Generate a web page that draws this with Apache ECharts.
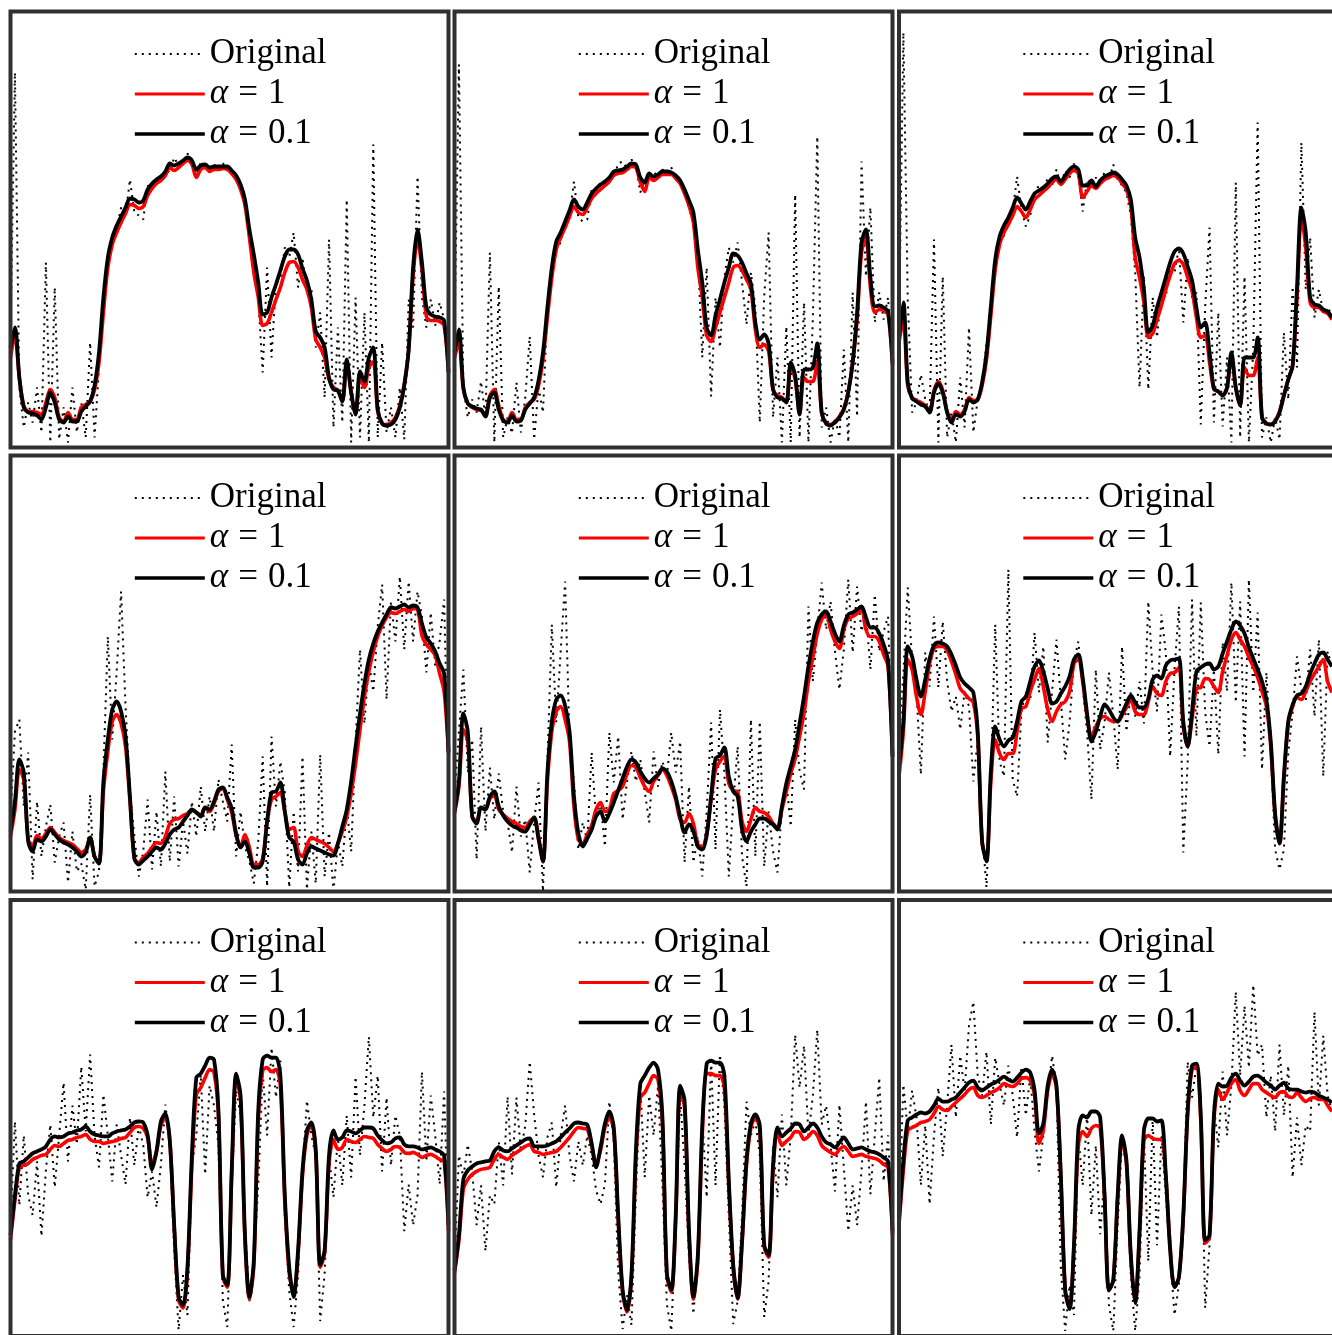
<!DOCTYPE html>
<html>
<head>
<meta charset="utf-8">
<title>Original vs smoothed</title>
<script src="https://cdn.jsdelivr.net/npm/echarts@6/dist/echarts.min.js"></script>
<style>
  html, body { margin: 0; padding: 0; background: #fff; }
  #chart { width: 1332px; height: 1335px; }
</style>
</head>
<body>
<div id="chart"></div>
<script>
// 100 samples per panel, amplitude in arbitrary units (0..436)
// row 1
const p1Orig = [110,375,60,20,45,25,60,15,185,5, 160,8,40,5,60,15,45,10,105,10, 80,140,178,205,218,240,232,268,235,232, 228,262,258,270,265,278,275,290,282,286, 294,285,272,285,282,278,283,278,284,279, 278,268,262,245,212,175,150,75,180,90, 165,168,200,190,215,160,190,155,160,100, 135,50,208,20,120,25,248,5,150,10, 135,5,303,10,105,15,40,10,60,8, 148,120,271,150,120,148,122,145,128,75]
const p1Alpha1 = [90,112,70,42,36,36,35,33,45,58, 50,30,26,35,28,28,40,43,46,58, 85,135,180,203,215,225,234,243,242,239, 241,252,259,264,267,272,280,277,280,284, 287,283,270,278,280,276,278,278,279,278, 274,268,258,242,210,175,150,122,124,135, 148,160,175,185,186,180,168,158,140,108, 100,90,68,60,57,46,85,55,34,70, 60,80,86,36,24,23,25,30,42,63, 98,172,208,178,131,127,127,126,122,75]
const p1Alpha01 = [100,120,70,40,35,34,32,28,40,55, 45,28,25,31,26,26,36,41,46,62, 95,150,190,210,222,231,240,249,248,245, 247,258,264,268,271,276,284,282,284,287, 290,287,278,282,283,280,281,281,281,281, 277,272,263,248,218,193,165,133,135,150, 163,177,191,198,198,193,179,167,148,116, 110,100,70,58,57,46,88,55,33,76, 66,90,100,38,24,22,23,28,40,62, 98,180,218,185,140,133,131,130,127,75]

const p2Orig = [110,383,60,30,48,35,66,30,195,5, 161,10,30,14,65,15,50,111,8,60, 35,140,175,198,205,225,232,266,230,226, 228,258,252,266,262,272,270,284,286,279, 288,282,255,268,270,276,270,278,274,280, 270,265,258,240,225,195,90,180,51,150, 100,170,200,185,205,165,123,175,140,25, 151,215,30,90,5,121,5,253,10,145, 5,130,311,20,40,5,30,10,98,5, 155,31,286,171,240,125,155,128,150,81]
const p2Alpha1 = [90,105,58,44,40,38,37,33,52,58, 42,28,26,35,28,28,40,45,48,62, 88,130,170,198,210,220,231,241,235,233, 240,249,254,258,262,266,272,274,275,278, 281,280,265,256,270,267,270,273,273,273, 269,264,254,242,225,180,150,112,106,120, 135,150,165,180,182,177,168,158,118,100, 103,96,58,52,50,45,82,68,34,70, 66,66,86,34,24,23,26,31,39,56, 85,128,195,210,160,135,138,137,133,82]
const p2Alpha01 = [95,118,60,44,41,39,38,31,50,55, 38,27,25,32,26,27,38,44,50,67, 95,140,180,206,215,226,237,248,241,238, 245,254,259,263,266,270,276,277,278,281, 284,283,270,265,274,271,273,276,276,275, 272,267,258,247,235,198,165,120,112,132, 148,165,180,194,192,185,174,164,125,108, 113,104,58,50,49,45,85,72,33,78, 78,80,104,35,24,22,25,30,38,55, 85,135,205,218,170,141,142,140,136,85]

const p3Orig = [115,415,148,35,45,73,48,35,208,5, 171,10,35,5,70,20,120,15,48,60, 105,135,180,205,212,230,236,271,238,221, 232,255,262,256,270,262,278,262,277,270, 284,272,236,268,262,270,262,276,268,283, 268,262,255,232,175,60,172,58,150,110, 160,150,188,175,200,125,190,150,155,23, 140,220,25,135,21,90,5,265,10,171, 5,100,325,10,30,5,30,8,115,48, 161,80,305,158,210,130,158,135,140,132]
const p3Alpha1 = [105,128,62,50,47,45,42,36,57,66, 57,36,27,36,33,38,50,47,48,62, 88,132,178,203,215,223,232,241,236,230, 238,248,252,256,260,265,268,263,268,274, 277,274,250,256,262,259,264,268,270,272, 270,264,258,242,190,170,145,110,114,128, 142,158,172,184,187,183,170,157,130,110, 112,85,58,56,52,60,92,60,42,80, 72,72,90,30,24,23,27,36,52,68, 82,150,230,200,145,140,140,136,134,128]
const p3Alpha01 = [110,145,65,49,46,43,41,35,55,64, 55,35,25,33,31,36,48,45,48,65, 94,141,188,211,222,230,240,250,244,238, 246,254,257,260,264,269,271,266,272,278, 281,278,262,262,267,261,267,271,273,275, 273,268,262,248,210,190,158,115,122,140, 155,170,185,196,199,194,181,167,140,120, 125,95,59,56,52,60,95,60,42,90, 90,90,110,30,24,23,26,35,52,68, 82,160,240,215,150,143,142,138,136,130]

// row 2
const p4Orig = [75,160,172,85,139,12,90,35,65,87, 29,55,69,9,60,20,28,2,97,5, 20,120,255,152,220,300,185,100,55,15, 40,92,22,80,25,120,30,95,25,70, 38,90,55,105,60,95,60,112,90,70, 147,35,80,45,30,8,50,135,5,155, 85,130,99,4,80,20,135,2,60,8, 137,15,59,0,50,25,85,40,150,242, 168,230,200,265,307,192,290,250,315,242, 310,250,300,275,219,279,225,250,292,115]
const p4Alpha1 = [55,82,122,112,52,45,56,53,58,64, 59,54,51,49,47,43,39,42,54,35, 28,100,140,170,177,168,145,90,33,29, 34,38,44,49,48,55,68,72,73,76, 78,82,79,76,84,80,88,100,103,92, 79,56,45,57,44,27,27,33,70,92, 95,99,80,62,64,40,35,46,54,52, 50,48,44,40,48,60,75,98,128,162, 195,220,240,255,266,274,279,278,280,282, 280,283,282,256,247,242,236,218,200,139]
const p4Alpha01 = [60,90,132,119,50,40,52,50,55,62, 57,52,49,47,44,40,35,39,54,35, 28,110,152,182,190,180,155,95,33,27, 31,35,40,44,42,48,57,62,64,70, 76,82,79,75,84,82,90,102,104,94, 83,58,44,50,38,24,24,30,70,99, 100,109,80,54,50,32,27,38,45,43, 41,39,37,36,48,65,82,110,145,178, 208,232,248,260,269,277,284,283,285,287, 284,286,284,268,254,248,240,228,218,139]

const p5Orig = [95,160,222,119,152,32,165,60,124,72, 118,80,69,39,105,55,72,19,70,109, 0,130,267,169,240,310,152,110,42,69, 50,139,72,90,45,159,109,155,72,110, 140,110,132,100,69,140,105,130,115,159, 119,150,29,105,29,55,15,80,169,42, 182,119,15,89,145,35,5,172,35,170, 25,80,40,19,85,110,65,172,120,102, 285,210,260,309,262,290,240,202,242,312, 239,305,260,280,222,297,240,260,275,119]
const p5Alpha1 = [78,105,162,150,75,70,84,82,93,96, 82,77,73,70,68,65,64,70,74,55, 30,110,160,180,185,172,150,85,52,48, 57,66,82,89,80,82,98,101,105,118, 126,124,114,105,100,110,116,122,116,105, 92,72,69,78,68,47,45,58,92,122, 130,135,108,101,100,70,60,72,84,80, 79,75,68,64,82,100,118,133,155,178, 210,234,258,272,278,262,250,243,262,273, 275,278,282,262,255,255,250,237,225,135]
const p5Alpha01 = [80,110,178,160,75,68,84,82,95,100, 85,76,70,66,64,61,60,67,74,52, 30,119,170,192,196,186,160,95,58,45, 53,62,75,80,70,78,89,101,113,125, 132,129,120,113,109,113,117,123,120,110, 95,75,59,67,60,45,42,56,95,133, 136,144,115,100,95,62,50,60,67,73, 73,70,67,62,85,108,125,142,168,195, 225,250,269,277,280,270,258,250,266,277, 279,282,285,274,264,264,258,247,230,135]

const p6Orig = [150,219,304,230,200,117,239,205,275,204, 270,210,180,195,162,200,185,110,152,60, 4,110,267,130,115,322,112,95,180,200, 190,259,199,245,149,200,252,192,132,169, 230,250,205,159,92,222,142,169,219,175, 122,245,160,200,175,210,168,290,219,180, 277,239,135,222,285,39,129,292,155,289, 179,145,222,137,249,200,309,189,290,135, 312,199,279,122,219,140,42,22,42,139, 179,235,202,190,242,175,252,115,240,225]
const p6Alpha1 = [115,160,232,222,195,177,200,228,243,245, 245,241,230,217,203,198,193,189,155,50, 32,110,152,138,132,138,138,160,183,185, 200,212,223,205,182,170,180,187,190,200, 228,232,210,175,155,165,173,175,172,170, 170,176,184,192,180,177,177,190,205,198, 196,210,218,219,224,165,145,172,203,204, 213,212,205,199,220,236,252,259,252,245, 234,225,214,200,185,145,75,48,112,168, 185,194,192,200,210,218,225,232,210,199]
const p6Alpha01 = [125,170,245,235,212,195,212,233,246,249, 248,245,237,226,214,208,204,199,160,50, 30,120,165,152,145,151,154,170,190,195, 210,225,231,220,203,188,190,198,205,215, 232,237,214,178,150,160,175,187,182,174, 170,178,188,196,189,184,184,193,212,216, 213,226,231,232,233,170,145,180,220,224, 227,228,222,225,238,250,262,270,266,258, 244,233,222,210,192,150,78,48,115,170, 187,196,198,205,218,228,237,239,232,225]

// row 3
const p7Orig = [110,214,130,200,140,120,174,99,165,211, 148,200,253,174,230,191,269,204,281,200, 168,241,200,154,211,180,151,218,170,210, 190,138,164,128,171,231,194,84,5,60, 20,170,200,261,161,250,230,190,34,8, 150,245,220,110,34,71,151,264,200,288, 238,275,120,44,8,60,161,235,200,180, 14,61,180,138,198,150,220,158,259,180, 230,299,218,260,164,238,170,220,200,104, 151,110,140,264,174,240,200,151,244,110]
const p7Alpha1 = [95,135,168,170,172,176,178,180,181,186, 190,189,192,195,196,198,199,201,196,194, 194,192,193,194,195,197,198,203,208,209, 207,198,171,184,210,218,195,108,35,27, 65,170,241,248,258,266,263,220,58,48, 160,258,235,95,36,70,215,265,268,264, 266,250,135,62,42,82,160,200,211,183, 68,82,172,196,186,188,196,194,193,196, 199,198,197,191,187,184,186,189,188,183, 182,183,181,178,180,181,179,176,174,104]
const p7Alpha01 = [100,140,172,174,178,182,184,186,189,196, 199,198,199,202,203,205,206,209,204,201, 200,199,199,202,204,205,206,209,213,214, 213,200,166,184,214,222,195,110,38,30, 68,180,258,262,270,278,276,225,60,50, 165,262,240,100,38,75,225,276,280,278, 278,260,140,68,38,85,165,205,213,185, 70,85,180,205,196,198,205,204,202,205, 208,208,207,200,195,192,193,197,198,191, 189,189,188,186,187,188,186,184,180,110]

const p8Orig = [70,180,158,191,164,110,150,84,140,131, 194,150,239,161,238,184,210,274,221,180, 158,198,213,148,200,230,180,154,194,170, 200,180,145,131,151,234,194,64,6,40, 10,140,251,158,240,200,250,150,31,4, 110,240,170,78,21,78,220,138,278,150, 281,230,120,11,34,120,234,200,215,180, 18,54,190,138,221,150,200,301,248,290, 200,240,306,211,230,190,144,231,168,104, 150,110,165,234,141,200,258,154,200,110]
const p8Alpha1 = [62,95,146,156,161,164,166,167,168,176, 181,178,176,180,183,186,189,191,184,183, 181,182,183,184,188,193,198,204,208,207, 206,190,171,185,208,218,205,115,42,23, 58,175,238,243,252,260,256,212,60,43, 115,245,228,100,36,76,200,262,262,260, 260,248,150,68,36,92,170,208,218,206, 88,78,165,202,190,194,198,204,203,196, 199,204,200,190,186,183,181,186,189,184, 179,180,181,179,178,177,175,171,168,100]
const p8Alpha01 = [65,100,156,165,169,172,173,174,175,184, 188,185,184,187,190,193,196,197,189,189, 189,190,192,194,198,203,207,212,213,212, 211,192,168,188,212,224,208,120,45,25, 60,185,252,260,268,273,266,218,62,45, 120,250,235,105,38,80,210,272,275,273, 273,260,155,70,37,95,175,212,221,210, 90,80,170,208,199,203,207,212,211,204, 208,212,208,199,193,191,188,193,198,192, 186,187,188,186,184,183,181,178,174,104]

const p9Orig = [120,251,204,245,218,150,210,131,200,248, 179,230,291,218,280,244,310,334,260,240, 284,211,278,251,230,270,240,198,269,220, 260,204,164,200,240,280,250,68,4,50, 20,200,150,221,120,190,101,160,30,4, 110,195,170,60,4,60,200,74,218,90, 200,140,80,20,50,120,274,238,270,240, 27,90,230,188,264,200,251,344,260,330, 268,351,280,291,218,260,204,291,220,270, 158,218,170,210,204,324,230,300,240,225]
const p9Alpha1 = [110,165,205,208,210,213,214,216,222,229, 226,225,229,233,237,241,246,248,240,238, 240,243,245,248,252,250,249,252,257,258, 255,240,192,205,245,261,248,158,45,28, 88,190,204,199,207,210,208,138,45,55, 138,195,172,78,32,102,195,200,197,196, 196,160,88,48,58,118,222,266,268,215, 92,98,215,246,236,243,252,256,245,240, 246,252,252,246,243,240,238,243,244,239, 238,243,238,234,237,238,236,236,230,224]
const p9Alpha01 = [115,175,215,218,221,223,222,224,230,237, 234,234,236,238,243,248,253,255,248,245, 248,251,253,256,259,256,254,258,263,266, 263,245,202,212,250,266,250,160,45,26, 90,205,220,218,224,224,218,140,45,55, 140,200,175,80,32,105,205,217,217,214, 215,160,85,48,58,120,225,270,272,220, 95,100,220,252,249,250,258,262,255,250, 254,259,260,257,253,250,246,250,253,247, 246,246,244,243,244,243,240,238,236,233]

const seriesNames = ['Original', 'α = 1', 'α = 0.1']
const panels = [
  [p1Orig, p1Alpha1, p1Alpha01], [p2Orig, p2Alpha1, p2Alpha01], [p3Orig, p3Alpha1, p3Alpha01],
  [p4Orig, p4Alpha1, p4Alpha01], [p5Orig, p5Alpha1, p5Alpha01], [p6Orig, p6Alpha1, p6Alpha01],
  [p7Orig, p7Alpha1, p7Alpha01], [p8Orig, p8Alpha1, p8Alpha01], [p9Orig, p9Alpha1, p9Alpha01]
]

const colLeft = [10.5, 454.5, 899]
const rowTop = [11.5, 455.5, 900]
const panelW = 438
const panelH = 436
const serif = 'Liberation Serif'

const origStyle = { color: '#000', width: 2, type: [2, 5] }
const alpha1Style = { color: '#ff0000', width: 3.6 }
const alpha01Style = { color: '#000', width: 3.8 }

const toPoints = arr => arr.map((v, i) => [i, v])

// legend label: italic alpha, wide spacing round "=" like LaTeX
const legendLabel = name => {
  if (name === 'Original') return name
  return '{a|α}{e|=}' + name.split('= ')[1]
}

const grids = [], xAxes = [], yAxes = [], series = [], legends = [], frames = []
panels.forEach((p, k) => {
  const left = colLeft[k % 3]
  const top = rowTop[Math.floor(k / 3)]
  grids.push({ left: left, top: top, width: panelW, height: panelH })
  xAxes.push({ type: 'value', gridIndex: k, min: 0, max: 99, show: false })
  yAxes.push({ type: 'value', gridIndex: k, min: 0, max: 436, show: false })

  series.push({
    name: seriesNames[0], type: 'line', xAxisIndex: k, yAxisIndex: k,
    data: toPoints(p[0]), symbol: 'none', silent: true,
    lineStyle: origStyle, itemStyle: { color: '#000' }
  })
  series.push({
    name: seriesNames[1], type: 'line', xAxisIndex: k, yAxisIndex: k,
    data: toPoints(p[1]), symbol: 'none', smooth: 0.3, silent: true,
    lineStyle: alpha1Style, itemStyle: { color: '#ff0000' }
  })
  series.push({
    name: seriesNames[2], type: 'line', xAxisIndex: k, yAxisIndex: k,
    data: toPoints(p[2]), symbol: 'none', smooth: 0.3, silent: true,
    lineStyle: alpha01Style, itemStyle: { color: '#000' }
  })

  legends.push({
    left: left + 122.5,
    top: top + 25,
    orient: 'vertical',
    padding: 0,
    itemWidth: 70,
    itemHeight: 14,
    itemGap: 5,
    selectedMode: false,
    data: [
      { name: seriesNames[0], lineStyle: origStyle },
      { name: seriesNames[1], lineStyle: { color: '#ff0000', width: 3.2 } },
      { name: seriesNames[2], lineStyle: { color: '#000', width: 3.6 } }
    ],
    itemStyle: { opacity: 0 },
    formatter: legendLabel,
    textStyle: {
      fontFamily: serif, fontSize: 35, color: '#000', lineHeight: 30,
      rich: {
        a: { fontFamily: serif, fontStyle: 'italic', fontSize: 35, lineHeight: 30, color: '#000' },
        e: { fontFamily: serif, fontSize: 35, lineHeight: 30, color: '#000', padding: [0, 10, 0, 10] }
      }
    }
  })

  frames.push({
    type: 'rect', z: 100, silent: true,
    shape: { x: left, y: top, width: panelW, height: panelH },
    style: { fill: 'none', stroke: '#303030', lineWidth: 4 }
  })
})

const chart = echarts.init(document.getElementById('chart'))
chart.setOption({
  animation: false,
  backgroundColor: '#fff',
  grid: grids,
  xAxis: xAxes,
  yAxis: yAxes,
  legend: legends,
  series: series,
  graphic: frames
})
</script>
</body>
</html>
